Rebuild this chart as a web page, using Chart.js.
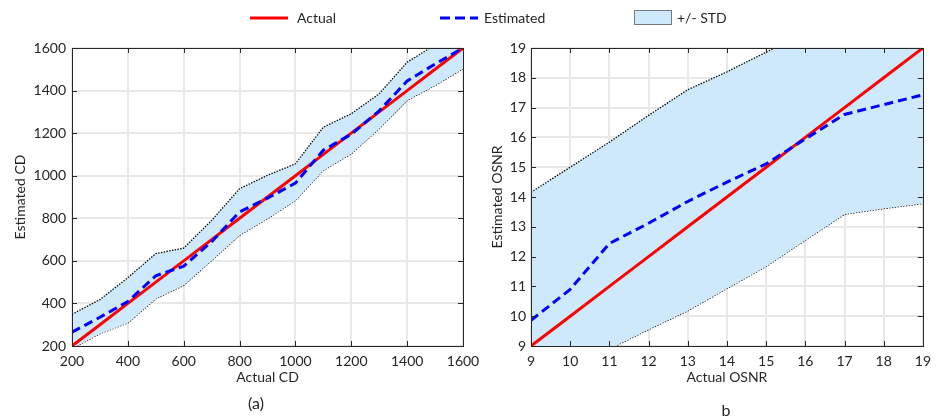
<!DOCTYPE html>
<html>
<head>
<meta charset="utf-8">
<title>CD / OSNR estimation</title>
<script src="https://cdn.jsdelivr.net/npm/chart.js@4/dist/chart.umd.min.js"></script>
<style>
    body { margin: 0; background: #fff; font-family: Lato, sans-serif; color: #262626; }
    #fig { position: relative; width: 938px; height: 418px; overflow: hidden; }
    canvas { position: absolute; top: 0; }
    #cd-canvas { left: 0; }
    #osnr-canvas { left: 470px; }
    .lbl { position: absolute; font-size: 14px; line-height: 14px; white-space: nowrap; }
    .cap { position: absolute; font-size: 16px; line-height: 16px; text-align: center; width: 60px; }
    #legend svg { position: absolute; }
</style>
</head>
<body>
<div id="fig">
    <canvas id="cd-canvas" width="500" height="418"></canvas>
    <canvas id="osnr-canvas" width="468" height="418"></canvas>

    <div id="legend">
        <svg style="left:250px;top:12px" width="40" height="12">
            <line x1="0" y1="6" x2="38" y2="6" stroke="#ff0000" stroke-width="3"/>
        </svg>
        <div class="lbl" style="left:297px;top:11px">Actual</div>
        <svg style="left:440px;top:12px" width="40" height="12">
            <line x1="0" y1="6" x2="38" y2="6" stroke="#0000ff" stroke-width="3" stroke-dasharray="10,5"/>
        </svg>
        <div class="lbl" style="left:484px;top:11px">Estimated</div>
        <svg style="left:634px;top:10px" width="38" height="15">
            <rect x="0.5" y="0.5" width="37" height="14" fill="#cde9fb" stroke="#000" stroke-width="1" stroke-dasharray="1,1"/>
        </svg>
        <div class="lbl" style="left:677px;top:11px">+/- STD</div>
    </div>

    <div class="cap" style="left:226px;top:395px">(a)</div>
    <div class="cap" style="left:696px;top:402px">b</div>
</div>

<script>
// ------------------------------------------------------------
// Chromatic dispersion estimate (left panel)
// ------------------------------------------------------------
const cdX         = [200, 300, 400, 500, 600, 700, 800, 900, 1000, 1100, 1200, 1300, 1400, 1500, 1600];
const cdActual    = [200, 300, 400, 500, 600, 700, 800, 900, 1000, 1100, 1200, 1300, 1400, 1500, 1600];
const cdEstimated = [265, 335, 409, 530, 575, 690, 830, 895, 965, 1120, 1195, 1305, 1445, 1525, 1600];
const cdUpper     = [349, 418, 521, 634, 660, 790, 939, 1002, 1056, 1228, 1291, 1385, 1533, 1615, 1660];
const cdLower     = [188, 258, 308, 422, 485, 602, 720, 798, 884, 1025, 1103, 1221, 1354, 1424, 1502];

// ------------------------------------------------------------
// OSNR estimate (right panel)
// ------------------------------------------------------------
const osnrX         = [9, 10, 11, 12, 13, 14, 15, 16, 17, 18, 19];
const osnrActual    = [9, 10, 11, 12, 13, 14, 15, 16, 17, 18, 19];
const osnrEstimated = [9.86, 10.9, 12.44, 13.12, 13.85, 14.5, 15.11, 15.95, 16.77, 17.1, 17.43];
const osnrUpper     = [14.16, 15.0, 15.84, 16.74, 17.6, 18.2, 18.86, 19.5, 20.0, 20.3, 20.6];
const osnrLower     = [7.9, 8.4, 8.9, 9.55, 10.18, 10.93, 11.67, 12.55, 13.42, 13.61, 13.78];

const INK = "#262626";
const GRID = "#e8e8e8";
const BAND = "#cde9fb";

Chart.defaults.font.family = "Lato, sans-serif";
Chart.defaults.font.size = 14;
Chart.defaults.color = INK;

// box round the plot area plus short inward tick marks on all four sides
const frame = {
    id: "frame",
    afterDatasetsDraw(chart) {
        const { ctx, chartArea: a, scales: { x, y } } = chart;
        const len = 5;
        ctx.save();
        ctx.strokeStyle = INK;
        ctx.lineWidth = 1;
        ctx.beginPath();
        x.ticks.forEach(t => {
            const px = Math.round(x.getPixelForValue(t.value)) + 0.5;
            ctx.moveTo(px, a.bottom); ctx.lineTo(px, a.bottom - len);
            ctx.moveTo(px, a.top);    ctx.lineTo(px, a.top + len);
        });
        y.ticks.forEach(t => {
            const py = Math.round(y.getPixelForValue(t.value)) + 0.5;
            ctx.moveTo(a.left, py);  ctx.lineTo(a.left + len, py);
            ctx.moveTo(a.right, py); ctx.lineTo(a.right - len, py);
        });
        ctx.stroke();
        ctx.strokeRect(Math.round(a.left) + 0.5, Math.round(a.top) + 0.5,
                       Math.round(a.right - a.left), Math.round(a.bottom - a.top));
        ctx.restore();
    }
};

function pts(xs, ys) {
    return xs.map((x, i) => ({ x, y: ys[i] }));
}

function makePanel(canvasId, cfg) {
    // dotted outline of the std band
    const edge = { borderColor: "#000", borderWidth: 1.3, borderDash: [1.4, 1.4], pointRadius: 0 };
    const datasets = [
        { label: "Estimated", data: pts(cfg.x, cfg.est), borderColor: "#0000ff", borderWidth: 3,
          borderDash: [9, 5], pointRadius: 0, fill: false },
        { label: "Actual", data: pts(cfg.x, cfg.act), borderColor: "#ff0000", borderWidth: 3,
          pointRadius: 0, fill: false },
        { label: "+/- STD", data: pts(cfg.x, cfg.up), ...edge, backgroundColor: BAND, fill: "+1" },
        { label: "lower", data: pts(cfg.x, cfg.lo), ...edge, fill: false }
    ];

    const tickFmt = { useGrouping: false };

    return new Chart(document.getElementById(canvasId), {
        type: "line",
        data: { datasets },
        options: {
            responsive: false,
            animation: false,
            layout: { padding: { left: 0, right: cfg.padRight, top: 48, bottom: 0 } },
            plugins: { legend: { display: false }, tooltip: { enabled: false } },
            scales: {
                x: {
                    type: "linear",
                    min: cfg.min, max: cfg.max,
                    ticks: { stepSize: cfg.step, padding: 7, color: INK, format: tickFmt },
                    grid: { color: GRID, lineWidth: 2, drawTicks: false },
                    border: { display: false },
                    title: { display: true, text: cfg.xTitle, color: INK, padding: { top: 0, bottom: 32 } },
                    afterFit: s => { s.height = 72; }
                },
                y: {
                    min: cfg.min, max: cfg.max,
                    ticks: { stepSize: cfg.step, padding: cfg.yPad, color: INK, format: tickFmt },
                    grid: { color: GRID, lineWidth: 2, drawTicks: false },
                    border: { display: false },
                    title: { display: true, text: cfg.yTitle, color: INK, padding: { top: cfg.yTitlePad, bottom: 0 } },
                    afterFit: s => { s.width = cfg.yWidth; }
                }
            }
        },
        plugins: [frame]
    });
}

makePanel("cd-canvas", {
    x: cdX, act: cdActual, est: cdEstimated, up: cdUpper, lo: cdLower,
    min: 200, max: 1600, step: 200,
    xTitle: "Actual CD", yTitle: "Estimated CD",
    yWidth: 72, yPad: 6, yTitlePad: 12, padRight: 37
});

makePanel("osnr-canvas", {
    x: osnrX, act: osnrActual, est: osnrEstimated, up: osnrUpper, lo: osnrLower,
    min: 9, max: 19, step: 1,
    xTitle: "Actual OSNR", yTitle: "Estimated OSNR",
    yWidth: 61, yPad: 5, yTitlePad: 19, padRight: 12
});
</script>
</body>
</html>
